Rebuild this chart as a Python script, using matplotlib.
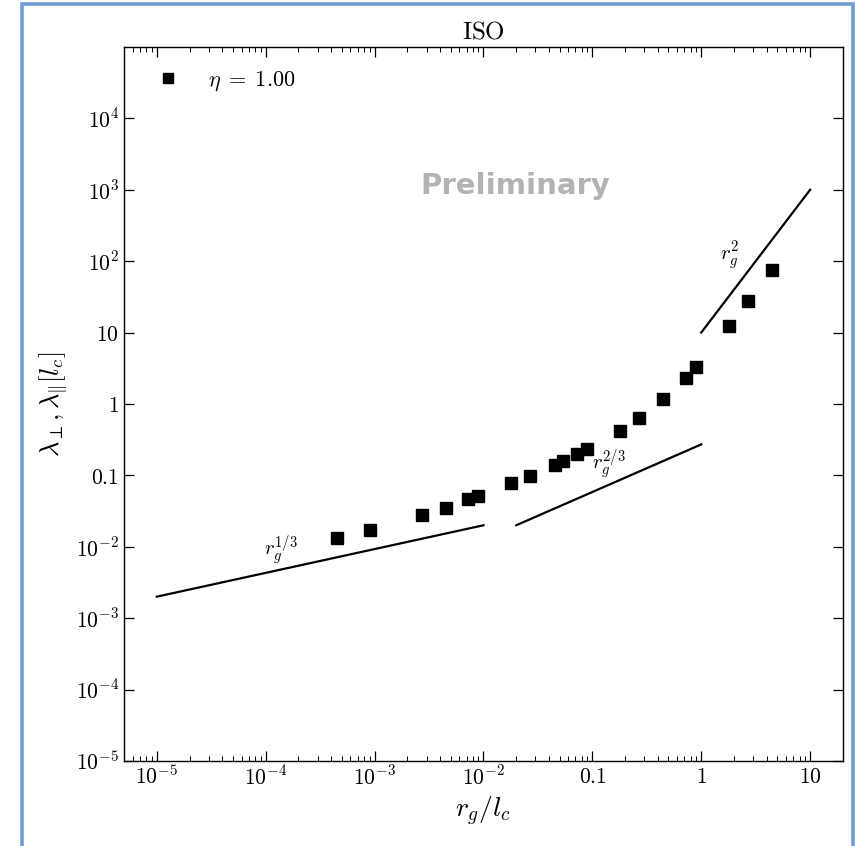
import matplotlib
matplotlib.use("Agg")
import matplotlib.pyplot as plt
import numpy as np
from matplotlib.patches import Rectangle
from matplotlib.ticker import FixedLocator, LogLocator, NullFormatter

plt.rcParams['mathtext.fontset'] = 'cm'
plt.rcParams['font.family'] = ['DejaVu Serif']

# data
rg = [4.5e-4, 9e-4, 2.7e-3, 4.5e-3, 7.2e-3, 9e-3, 0.018, 0.027, 0.045, 0.054,
      0.072, 0.09, 0.18, 0.27, 0.45, 0.72, 0.9, 1.8, 2.7, 4.5]
lam = [0.0132, 0.0172, 0.0279, 0.035, 0.0469, 0.0516, 0.0787, 0.0986, 0.141, 0.160,
       0.201, 0.237, 0.424, 0.645, 1.156, 2.28, 3.26, 12.3, 27.7, 75.5]

# reference power laws (endpoints)
x13 = [1e-5, 1e-2]
y13 = [0.002, 0.02]
x23 = [0.02, 1.0]
y23 = [0.02, 0.02 * (1.0 / 0.02) ** (2 / 3)]
x2 = [1.0, 10.0]
y2 = [10.0, 1000.0]

xticks = [1e-5, 1e-4, 1e-3, 1e-2, 0.1, 1, 10]
xticklabels = [r'$10^{-5}$', r'$10^{-4}$', r'$10^{-3}$', r'$10^{-2}$', r'$0.1$', r'$1$', r'$10$']
yticks = [1e-5, 1e-4, 1e-3, 1e-2, 0.1, 1, 10, 1e2, 1e3, 1e4]
yticklabels = [r'$10^{-5}$', r'$10^{-4}$', r'$10^{-3}$', r'$10^{-2}$', r'$0.1$', r'$1$',
               r'$10$', r'$10^{2}$', r'$10^{3}$', r'$10^{4}$']

fig = plt.figure(figsize=(8.61, 8.46), dpi=100)
ax = fig.add_axes([0.144, 0.1005, 0.835, 0.844])

ax.plot(rg, lam, 's', color='black', markersize=8.5, linestyle='none', label=r'$\eta\;=\;1.00$')
ax.plot(x13, y13, '-', color='black', lw=1.6)
ax.plot(x23, y23, '-', color='black', lw=1.6)
ax.plot(x2, y2, '-', color='black', lw=1.6)

ax.text(1.38e-4, 9e-3, r'$r_g^{1/3}$', fontsize=15, ha='center', va='center')
ax.text(0.141, 0.141, r'$r_g^{2/3}$', fontsize=15, ha='center', va='center')
ax.text(1.83, 118, r'$r_g^{2}$', fontsize=15, ha='center', va='center')

ax.text(0.545, 0.805, 'Preliminary', transform=ax.transAxes, fontsize=21, fontweight='bold',
        color='#b3b3b3', ha='center', va='center', family='DejaVu Sans')

ax.set_xscale('log')
ax.set_yscale('log')
ax.set_xlim(5e-6, 20)
ax.set_ylim(1e-5, 1e5)

ax.xaxis.set_major_locator(FixedLocator(xticks))
ax.set_xticklabels(xticklabels)
ax.yaxis.set_major_locator(FixedLocator(yticks))
ax.set_yticklabels(yticklabels)
ax.xaxis.set_minor_locator(LogLocator(base=10, subs=np.arange(2, 10), numticks=30))
ax.yaxis.set_minor_locator(LogLocator(base=10, subs=np.arange(2, 10), numticks=30))
ax.xaxis.set_minor_formatter(NullFormatter())
ax.yaxis.set_minor_formatter(NullFormatter())
ax.tick_params(which='both', direction='in', top=True, right=True, labelsize=15.5)
ax.tick_params(which='major', length=7, width=0.9)
ax.tick_params(which='minor', length=3.5, width=0.7)
ax.tick_params(axis='y', which='minor', left=False, right=False)
for s in ax.spines.values():
    s.set_linewidth(1.0)

ax.set_xlabel(r'$r_g/l_c$', fontsize=20)
ax.set_ylabel(r'$\lambda_{\perp},\lambda_{\|}[l_c]$', fontsize=19)
ax.set_title(r'$\mathrm{ISO}$', fontsize=18)

ax.legend(loc='upper left', frameon=False, fontsize=16, handletextpad=0.8,
          borderaxespad=0.6, markerscale=0.9)

# decorative frame around the figure
fig.patches.append(Rectangle((21.5 / 861, -0.05), (852.5 - 21.5) / 861, 1.05 - 4.5 / 846,
                             transform=fig.transFigure, fill=False,
                             edgecolor='#6f9cd3', lw=2.6, zorder=10))

fig.savefig('out.png', dpi=100)
